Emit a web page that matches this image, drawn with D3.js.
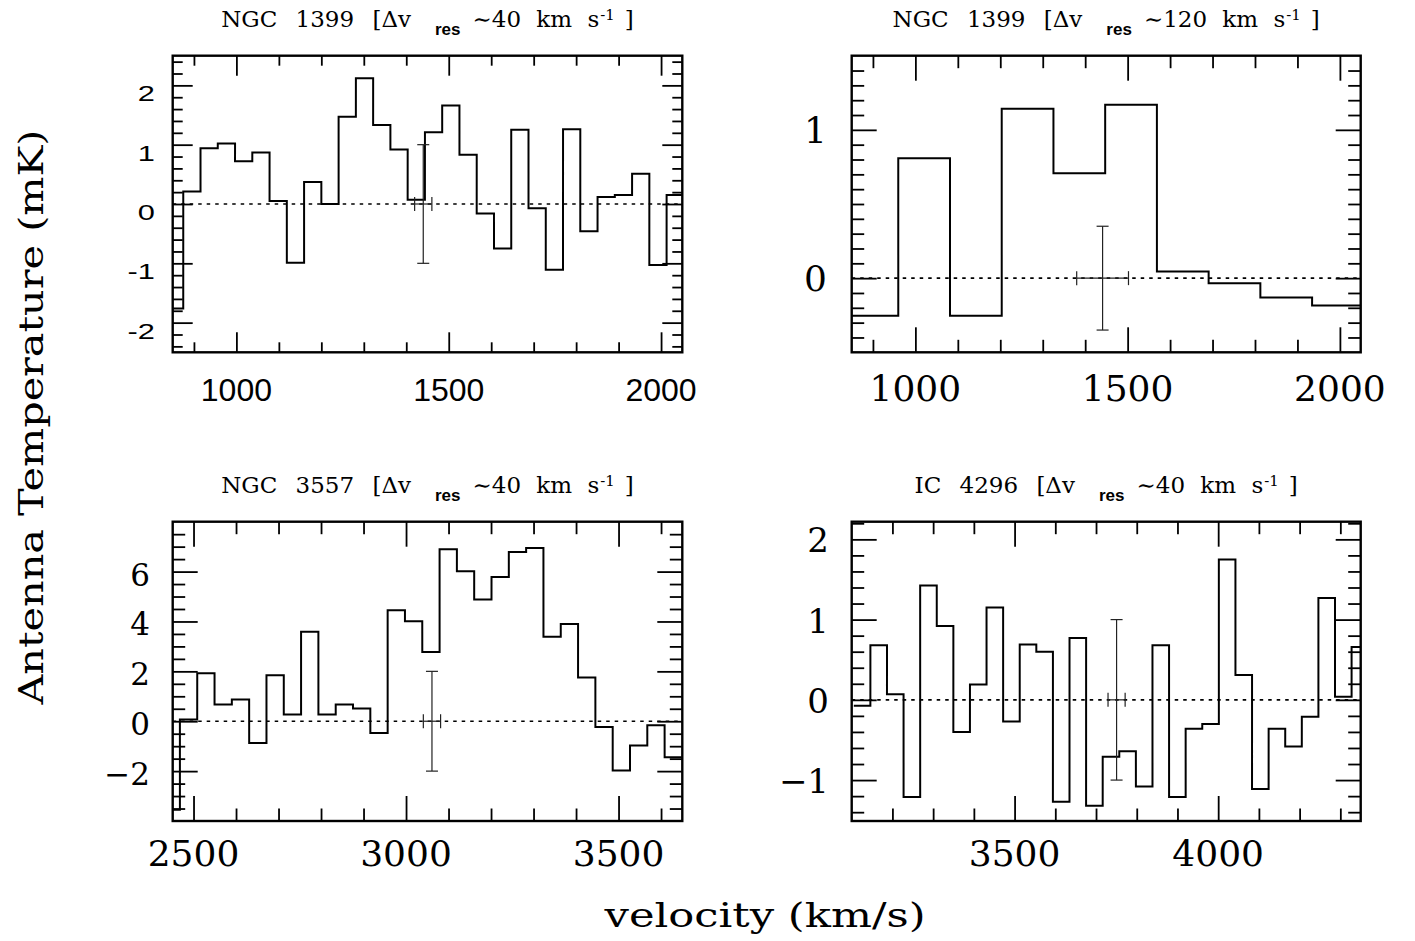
<!DOCTYPE html>
<html>
<head>
<meta charset="utf-8">
<script src="https://cdn.jsdelivr.net/npm/d3@7"></script>
<style>
  html, body { margin: 0; padding: 0; background: #fff; }
  svg { display: block; }
</style>
</head>
<body>
<svg id="chart" width="1415" height="941"></svg>
<script>
// ---------------- DATA ----------------
// NGC 1399, 40 km/s resolution (bin centres, km/s ; antenna temperature, mK)
const velNGC1399a = [854.5, 895.2, 935.8, 976.5, 1017.1, 1057.8, 1098.4, 1139.1, 1179.7, 1220.4,
  1261.0, 1301.7, 1342.3, 1383.0, 1423.6, 1464.3, 1504.9, 1545.6, 1586.2, 1626.9,
  1667.5, 1708.2, 1748.8, 1789.5, 1830.1, 1870.8, 1911.4, 1952.1, 1992.7, 2033.4];
const tmpNGC1399a = [-1.76, 0.21, 0.94, 1.02, 0.72, 0.87, 0.05, -0.99, 0.37, 0.00,
  1.47, 2.12, 1.33, 0.92, 0.07, 1.21, 1.66, 0.83, -0.16, -0.75,
  1.25, -0.07, -1.11, 1.26, -0.46, 0.12, 0.15, 0.51, -1.03, 0.15];

// NGC 1399, 120 km/s resolution
const velNGC1399b = [898.8, 1020.6, 1142.5, 1264.3, 1386.2, 1508.0, 1629.9, 1751.7, 1873.6, 1995.4];
const tmpNGC1399b = [-0.254, 0.809, -0.254, 1.142, 0.708, 1.169, 0.045, -0.034, -0.130, -0.184];

// NGC 3557, 40 km/s resolution
const velNGC3557 = [2447.6, 2488.3, 2529.1, 2569.8, 2610.5, 2651.3, 2692.0, 2732.7, 2773.4, 2814.2,
  2854.9, 2895.6, 2936.4, 2977.1, 3017.8, 3058.6, 3099.3, 3140.0, 3180.7, 3221.5,
  3262.2, 3302.9, 3343.7, 3384.4, 3425.1, 3465.9, 3506.6, 3547.3, 3588.0, 3628.8];
const tmpNGC3557 = [-3.55, 0.07, 1.92, 0.67, 0.87, -0.87, 1.84, 0.27, 3.59, 0.27,
  0.67, 0.51, -0.47, 4.45, 4.01, 2.78, 6.90, 6.01, 4.88, 5.78,
  6.79, 6.95, 3.39, 3.90, 1.75, -0.23, -1.98, -0.97, -0.16, -1.44];

// IC 4296, 40 km/s resolution
const velIC4296 = [3125.5, 3166.3, 3207.0, 3247.8, 3288.5, 3329.3, 3370.0, 3410.8, 3451.5, 3492.3,
  3533.0, 3573.8, 3614.5, 3655.3, 3696.0, 3736.8, 3777.5, 3818.3, 3859.0, 3899.8,
  3940.5, 3981.3, 4022.0, 4062.8, 4103.5, 4144.3, 4185.0, 4225.8, 4266.5, 4307.3, 4348.0];
const tmpIC4296 = [-0.075, 0.68, 0.07, -1.21, 1.425, 0.92, -0.40, 0.19, 1.15, -0.27,
  0.69, 0.60, -1.27, 0.77, -1.32, -0.71, -0.64, -1.08, 0.68, -1.21,
  -0.36, -0.30, 1.75, 0.31, -1.11, -0.36, -0.58, -0.21, 1.27, 0.04, 0.66];

// bin widths (km/s)
const binWidths = [40.65, 121.85, 40.73, 40.75];

// representative error bars: [velocity, temperature, half-width km/s, half-height mK]
const errorBars = [[1440, 0, 20.3, 1.0], [1441, 0, 61, 0.35], [3061, 0, 20.3, 2.0], [3750.5, 0, 21, 1.0]];

// titles
const titleNames = ["NGC 1399", "NGC 1399", "NGC 3557", "IC 4296"];
const titleRes = ["40", "120", "40", "40"];

// tick labels
const xLabels = [[1000, 1500, 2000], [1000, 1500, 2000], [2500, 3000, 3500], [3500, 4000]];
const yLabels = [[2, 1, 0, -1, -2], [1, 0], [6, 4, 2, 0, -2], [2, 1, 0, -1]];

// ---------------- LAYOUT ----------------
const svg = d3.select("#chart");
const panels = [
  { vel: velNGC1399a, tmp: tmpNGC1399a, x0: 172.7, x1: 682.3, y0: 55.7, y1: 352.3,
    xd: [850, 2050], yd: [-2.5, 2.5], xMinor: 100, xMajor: 500, yMinor: 0.2, yMajor: 1,
    tMin: 10, tMaj: 20, sans: true },
  { vel: velNGC1399b, tmp: tmpNGC1399b, x0: 851.7, x1: 1360.7, y0: 55.7, y1: 352.3,
    xd: [850, 2049], yd: [-0.5, 1.5], xMinor: 100, xMajor: 500, yMinor: 0.1, yMajor: 1,
    tMin: 12.5, tMaj: 25, yFont: 36, yRight: 827, yOff: 13 },
  { vel: velNGC3557, tmp: tmpNGC3557, x0: 172.7, x1: 682.3, y0: 521.7, y1: 821,
    xd: [2451, 3650], yd: [-4, 8], xMinor: 100, xMajor: 500, yMinor: 0.5, yMajor: 2,
    tMin: 12.5, tMaj: 25, yFont: 31, yRight: 150, yOff: 14 },
  { vel: velIC4296, tmp: tmpIC4296, x0: 851.7, x1: 1360.7, y0: 521.7, y1: 821,
    xd: [3100, 4350], yd: [-1.51, 2.22], xMinor: 100, xMajor: 500, yMinor: 0.2, yMajor: 1,
    tMin: 12.5, tMaj: 25, yFont: 34, yRight: 829, yOff: 13 }
];

function ticksIn(d, step) {
  const out = [];
  const start = Math.ceil(d[0] / step - 1e-9);
  const end = Math.floor(d[1] / step + 1e-9);
  for (let i = start; i <= end; i++) {
    const v = +(i * step).toFixed(6);
    if (v > d[0] + 1e-6 && v < d[1] - 1e-6) out.push(v);
  }
  return out;
}

panels.forEach((p, i) => {
  const x = d3.scaleLinear().domain(p.xd).range([p.x0, p.x1]);
  const y = d3.scaleLinear().domain(p.yd).range([p.y1, p.y0]);
  const g = svg.append("g");
  const w = binWidths[i];

  const clipId = "clip" + i;
  svg.append("clipPath").attr("id", clipId)
    .append("rect").attr("x", p.x0).attr("y", p.y0)
    .attr("width", p.x1 - p.x0).attr("height", p.y1 - p.y0);

  // zero dotted line
  g.append("line")
    .attr("x1", x(p.xd[0])).attr("x2", x(p.xd[1]))
    .attr("y1", y(0)).attr("y2", y(0))
    .attr("stroke", "#000").attr("stroke-width", 1.6)
    .attr("stroke-dasharray", "3.5,5");

  // histogram
  const pts = [];
  p.vel.forEach((v, k) => {
    pts.push([v - w / 2, p.tmp[k]]);
    pts.push([v + w / 2, p.tmp[k]]);
  });
  const line = d3.line().x(d => x(d[0])).y(d => y(d[1]));
  g.append("path").attr("d", line(pts))
    .attr("clip-path", `url(#${clipId})`)
    .attr("fill", "none").attr("stroke", "#000").attr("stroke-width", 2)
    .attr("stroke-linejoin", "miter");

  // error bar
  const [ev, et, ehw, ehh] = errorBars[i];
  const eb = g.append("g").attr("stroke", "#222").attr("stroke-width", 1.2).attr("fill", "none");
  eb.append("line").attr("x1", x(ev)).attr("x2", x(ev)).attr("y1", y(et - ehh)).attr("y2", y(et + ehh));
  eb.append("line").attr("x1", x(ev) - 6).attr("x2", x(ev) + 6).attr("y1", y(et + ehh)).attr("y2", y(et + ehh));
  eb.append("line").attr("x1", x(ev) - 6).attr("x2", x(ev) + 6).attr("y1", y(et - ehh)).attr("y2", y(et - ehh));
  eb.append("line").attr("x1", x(ev - ehw)).attr("x2", x(ev + ehw)).attr("y1", y(et)).attr("y2", y(et));
  eb.append("line").attr("x1", x(ev - ehw)).attr("x2", x(ev - ehw)).attr("y1", y(et) - 7).attr("y2", y(et) + 7);
  eb.append("line").attr("x1", x(ev + ehw)).attr("x2", x(ev + ehw)).attr("y1", y(et) - 7).attr("y2", y(et) + 7);

  // ticks via d3 axes (inside, mirrored on all four sides)
  const xAll = ticksIn(p.xd, p.xMinor);
  const xMaj = xAll.filter(v => Math.abs(v / p.xMajor - Math.round(v / p.xMajor)) < 1e-6);
  const xMin = xAll.filter(v => !xMaj.includes(v));
  const yAll = ticksIn(p.yd, p.yMinor);
  const yMaj = yAll.filter(v => Math.abs(v / p.yMajor - Math.round(v / p.yMajor)) < 1e-6);
  const yMin = yAll.filter(v => !yMaj.includes(v));

  const axes = [
    [d3.axisBottom(x), `translate(0,${p.y1})`, xMin, xMaj],
    [d3.axisTop(x), `translate(0,${p.y0})`, xMin, xMaj],
    [d3.axisLeft(y), `translate(${p.x0},0)`, yMin, yMaj],
    [d3.axisRight(y), `translate(${p.x1},0)`, yMin, yMaj]
  ];
  axes.forEach(([ax, tr, mn, mj]) => {
    [[mn, p.tMin], [mj, p.tMaj]].forEach(([vals, len]) => {
      const a = g.append("g").attr("transform", tr)
        .call(ax.tickValues(vals).tickSize(-len).tickFormat(""));
      a.select(".domain").remove();
      a.selectAll("line").attr("stroke", "#000").attr("stroke-width", 1.8);
    });
  });

  // frame
  g.append("rect").attr("x", p.x0).attr("y", p.y0)
    .attr("width", p.x1 - p.x0).attr("height", p.y1 - p.y0)
    .attr("fill", "none").attr("stroke", "#000").attr("stroke-width", 2.4);

  // x tick labels
  const xBase = p.y1 + (i < 2 ? 49 : 45);
  g.selectAll(".xl").data(xLabels[i]).enter().append("text")
    .attr("x", d => x(d)).attr("y", xBase)
    .attr("text-anchor", "middle")
    .attr("font-family", p.sans ? "'Liberation Sans', Arial, sans-serif" : "'DejaVu Serif', serif")
    .attr("font-size", p.sans ? 32 : 36)
    .attr("fill", "#000")
    .text(d => d);

  // y tick labels
  if (p.sans) {
    g.selectAll(".yl").data(yLabels[i]).enter().append("text")
      .attr("transform", d => `translate(155,${y(d) + 16}) scale(1.4,1)`)
      .attr("text-anchor", "end")
      .attr("font-family", "'Liberation Sans', Arial, sans-serif")
      .attr("font-size", 22)
      .attr("fill", "#000")
      .text(d => d);
  } else {
    g.selectAll(".yl").data(yLabels[i]).enter().append("text")
      .attr("x", p.yRight).attr("y", d => y(d) + p.yOff)
      .attr("text-anchor", "end")
      .attr("font-family", "'DejaVu Serif', serif")
      .attr("font-size", p.yFont)
      .attr("fill", "#000")
      .text(d => d < 0 ? "\u2212" + Math.abs(d) : d);
  }

  // title
  const t = svg.append("text")
    .attr("x", (p.x0 + p.x1) / 2)
    .attr("y", p.y0 - 29)
    .attr("text-anchor", "middle")
    .attr("font-family", "'DejaVu Serif', serif")
    .attr("font-size", 23)
    .attr("fill", "#000");
  t.append("tspan").attr("word-spacing", 11).text(titleNames[i] + " [\u0394v");
  t.append("tspan").attr("dx", 24).attr("dy", 8)
    .attr("font-family", "'Liberation Sans', Arial, sans-serif")
    .attr("font-weight", "bold").attr("font-size", 17).text("res");
  t.append("tspan").attr("dx", 12).attr("dy", -8).attr("word-spacing", 8)
    .text("\u223C" + titleRes[i] + " km s");
  t.append("tspan").attr("dy", -7).attr("dx", 1).attr("font-size", 15).text("-1");
  t.append("tspan").attr("dy", 7).attr("dx", 10).text("]");
});

// axis titles
svg.append("text")
  .attr("x", 765).attr("y", 927)
  .attr("text-anchor", "middle")
  .attr("font-family", "'DejaVu Serif', serif")
  .attr("font-size", 33)
  .attr("textLength", 321).attr("lengthAdjust", "spacingAndGlyphs")
  .attr("fill", "#000")
  .text("velocity (km/s)");

svg.append("text")
  .attr("transform", "translate(43,417) rotate(-90)")
  .attr("text-anchor", "middle")
  .attr("font-family", "'DejaVu Serif', serif")
  .attr("font-size", 33)
  .attr("textLength", 575).attr("lengthAdjust", "spacingAndGlyphs")
  .attr("fill", "#000")
  .text("Antenna Temperature (mK)");
</script>
</body>
</html>
